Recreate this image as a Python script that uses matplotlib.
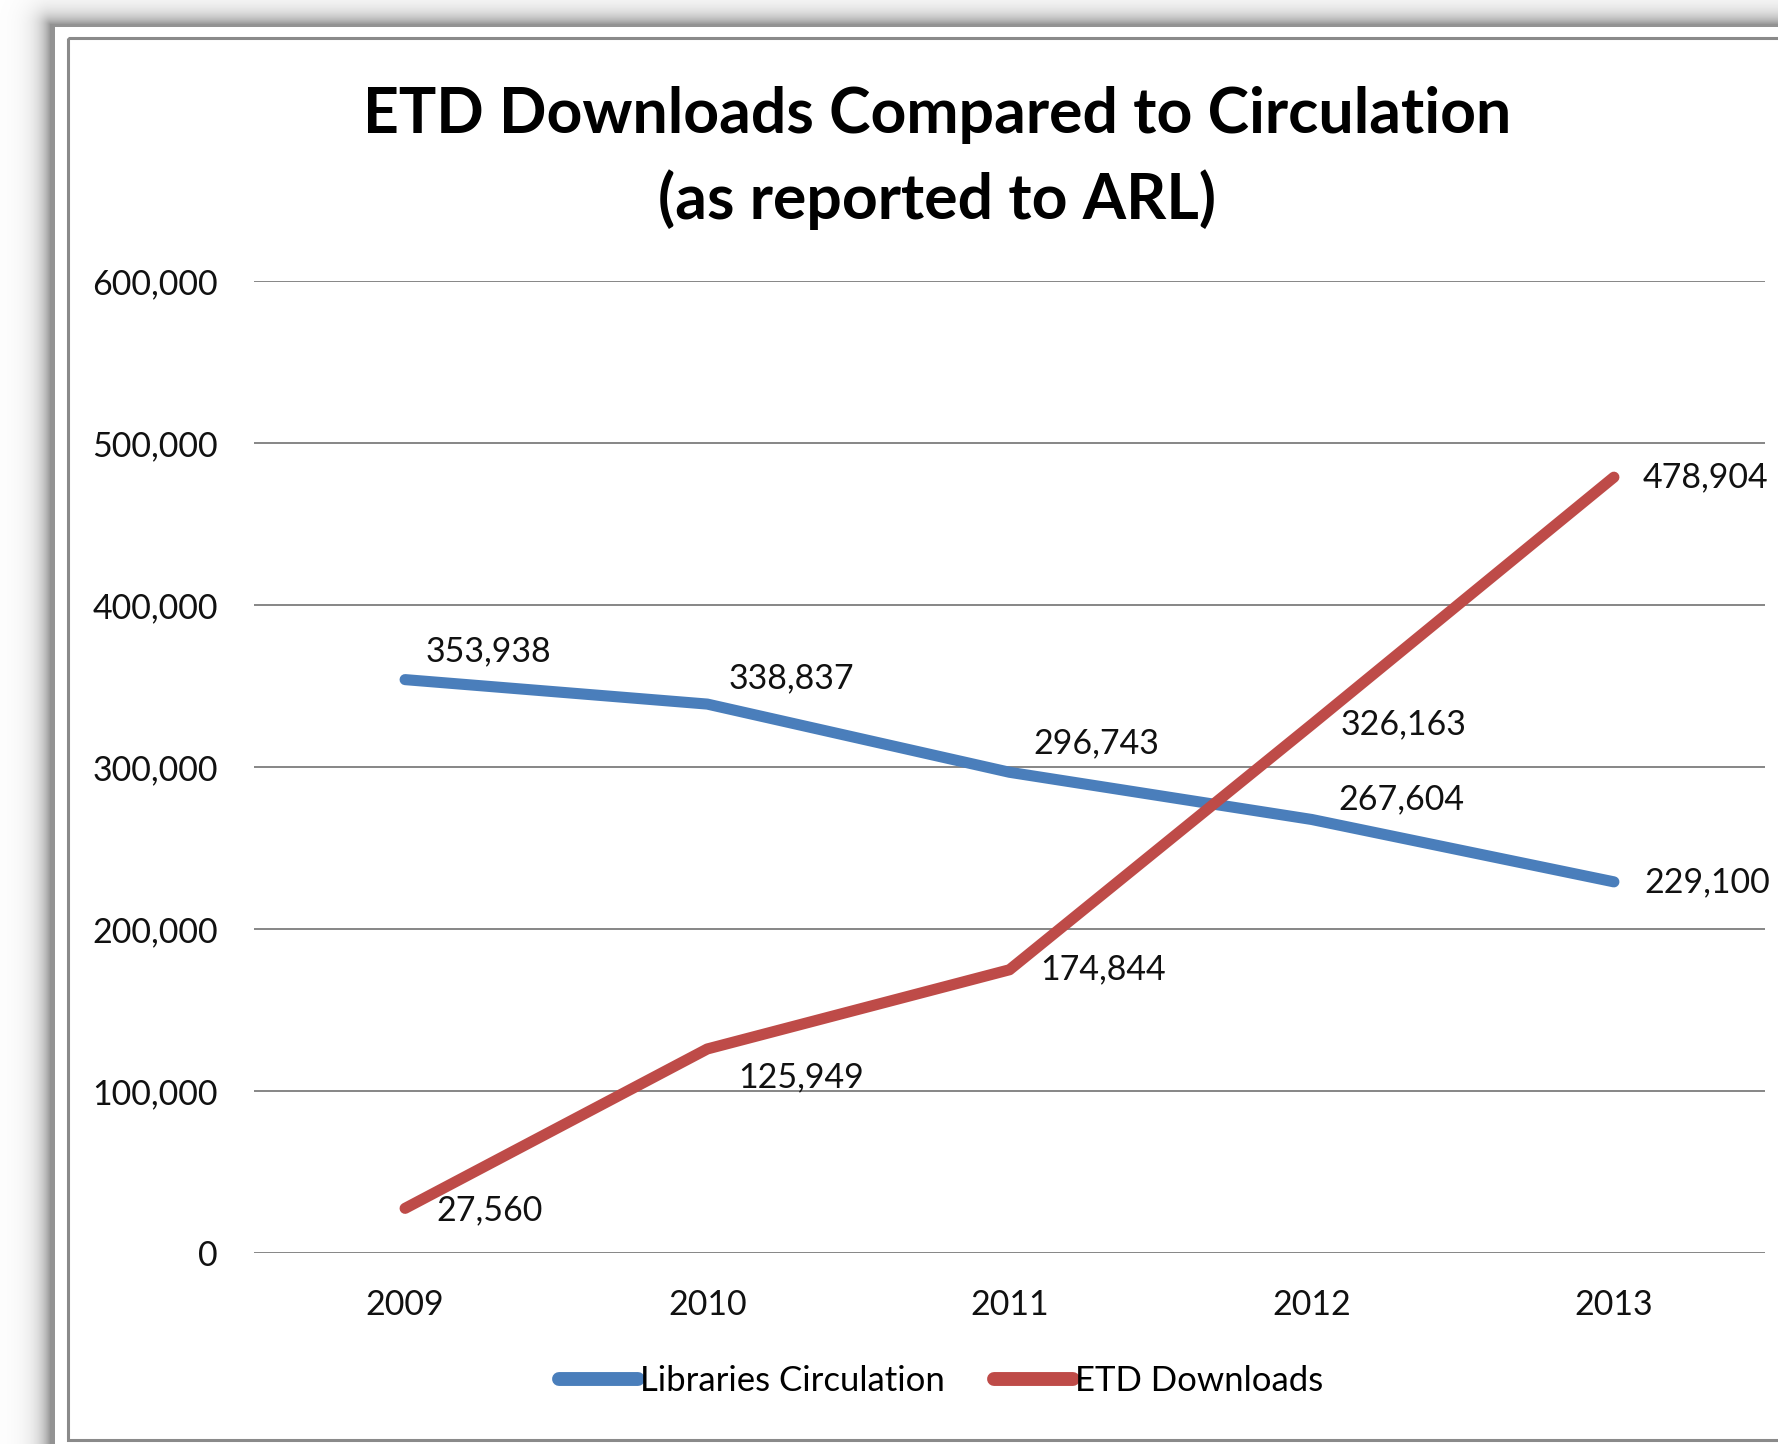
import numpy as np
import matplotlib
matplotlib.use("Agg")
import matplotlib.pyplot as plt
from matplotlib.patches import Rectangle
from matplotlib.ticker import FuncFormatter

plt.rcParams['font.family'] = ['Lato', 'DejaVu Sans']

years = ['2009', '2010', '2011', '2012', '2013']
circulation = [353938, 338837, 296743, 267604, 229100]
downloads = [27560, 125949, 174844, 326163, 478904]

# label offsets (pixels) picked by eye from the original
circ_off = [(20, 28), (21, 26), (24, 29), (27, 20), (30, 0)]
dl_off = [(31, -2), (31, -28), (31, 0), (29, 0), (29, 0)]

W, H = 1778, 1444
fs = 24.5
fig = plt.figure(figsize=(W / 100, H / 100), dpi=100)

# ---- background: drop shadow + panel frame ----
bg = fig.add_axes([0, 0, 1, 1], zorder=-5)
bg.set_xlim(0, W)
bg.set_ylim(H, 0)
bg.axis('off')
yy, xx = np.mgrid[0:H, 0:W]
dx = np.clip(50 - xx, 0, None)
dy = np.clip(24 - yy, 0, None)
d = np.sqrt(dx ** 2 + dy ** 2)
shade = 1 - 0.42 * np.exp(-d / 11.0)
shade[(xx >= 55) & (yy >= 27)] = 1.0
img = np.dstack([shade, shade, shade])
bg.imshow(img, extent=(0, W, H, 0), aspect='auto', interpolation='bilinear')
bg.add_patch(Rectangle((68, 38), 1800, 1402, fill=False, ec='#8a8a8a', lw=2.2))

# ---- chart ----
ax = fig.add_axes([254 / W, 1 - 1253 / H, 1511 / W, (1253 - 281) / H])
x = np.arange(len(years))
ax.plot(x, circulation, color='#4a7ebb', lw=8, solid_capstyle='round',
        label='Libraries Circulation', clip_on=False, zorder=3)
ax.plot(x, downloads, color='#be4b48', lw=8, solid_capstyle='round',
        label='ETD Downloads', clip_on=False, zorder=3)

for i in range(len(years)):
    ax.annotate(f"{circulation[i]:,}", (x[i], circulation[i]), xytext=circ_off[i],
                textcoords='offset pixels', ha='left', va='center', fontsize=fs,
                color='#111111', zorder=4)
    ax.annotate(f"{downloads[i]:,}", (x[i], downloads[i]), xytext=dl_off[i],
                textcoords='offset pixels', ha='left', va='center', fontsize=fs,
                color='#111111', zorder=4)

ax.set_xlim(-0.5, 4.5)
ax.set_ylim(0, 600000)
ax.set_yticks(range(0, 600001, 100000))
ax.yaxis.set_major_formatter(FuncFormatter(lambda v, p: f"{int(v):,}"))
ax.set_xticks(x)
ax.set_xticklabels(years)
ax.grid(axis='y', color='#868686', lw=1.4)
ax.set_axisbelow(True)
for s in ax.spines.values():
    s.set_visible(False)
ax.tick_params(axis='both', length=0, labelsize=fs, colors='#111111')
ax.tick_params(axis='y', pad=26)
ax.tick_params(axis='x', pad=26)

fig.text(937 / W, 1 - 115 / H, 'ETD Downloads Compared to Circulation',
         ha='center', va='center', fontsize=45, fontweight='bold')
fig.text(937 / W, 1 - 200 / H, '(as reported to ARL)',
         ha='center', va='center', fontsize=45, fontweight='bold')

leg = fig.legend(loc='center', bbox_to_anchor=(941 / W, 1 - 1381 / H), ncol=2,
                 frameon=False, fontsize=25, handlelength=2.3, handletextpad=0.05,
                 columnspacing=1.4)
for ln in leg.get_lines():
    ln.set_linewidth(10)

fig.savefig('out.png', dpi=100)
